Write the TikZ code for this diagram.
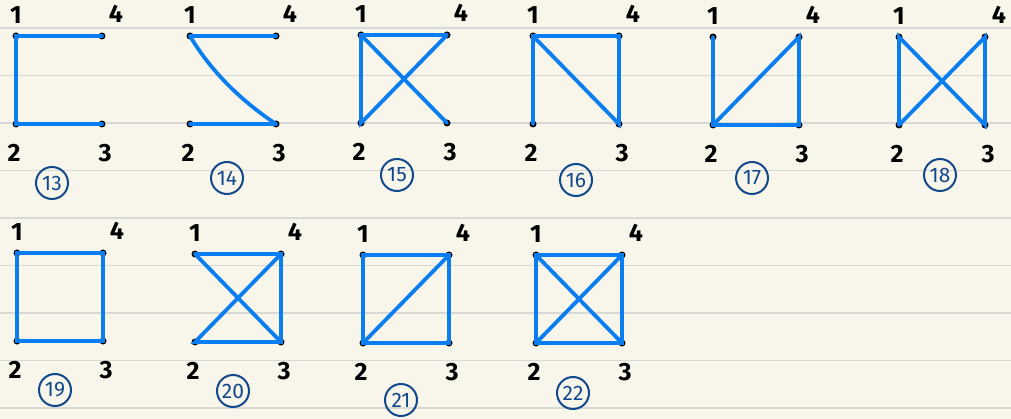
\documentclass[tikz,border=0pt]{standalone}
\usepackage{fontspec}
\setmainfont{Fira Sans}
\usetikzlibrary{calc}
\definecolor{paper}{RGB}{248,246,234}
\definecolor{ruling}{RGB}{216,216,212}
\definecolor{pen}{RGB}{10,125,240}
\definecolor{ink}{RGB}{18,72,140}
\tikzset{
    graphedge/.style={line width=3.8pt,pen,line cap=round},
    vert/.style={circle,fill=black,inner sep=0pt,minimum size=7pt},
    vlabel/.style={font=\fontsize{25}{25}\selectfont\bfseries,inner sep=0pt},
    gnum/.style={circle,draw=ink,line width=2pt,text=ink,minimum size=32pt,inner sep=0pt,font=\fontsize{21}{21}\selectfont},
    ruleline/.style={ruling,line width=1.3pt}
}

\begin{document}
\begin{tikzpicture}[x=1pt,y=-1pt]
    % Paper
    \fill[paper] (0,0) rectangle (1011,419);
    \useasboundingbox (0,0) rectangle (1011,419);
    \foreach \ry in {28,75.5,...,410}
        \draw[ruleline] (0,\ry) -- (1011,\ry);
    % Vertices, corner labels and graph numbers
    \foreach \g/\x/\y/\lx/\ly in {13/16/36/52/183, 14/190/36/227/178, 15/361/35/397/175,
            16/533/36/576/180, 17/713/37/752/178, 18/899/37/940/175,
            19/17/253/55/390, 20/195/254/233/391, 21/363/255/401/400, 22/536/255/573/393}{
        \node[vert] (g\g-1) at (\x,\y) {};
        \node[vert] (g\g-4) at (\x+86,\y) {};
        \node[vert] (g\g-2) at (\x,\y+88) {};
        \node[vert] (g\g-3) at (\x+86,\y+88) {};
        \node[vlabel] (g\g-l1) at (\x,\y-21) {1};
        \node[vlabel] (g\g-l4) at (\x+100,\y-22) {4};
        \node[vlabel] (g\g-l2) at (\x-2,\y+117) {2};
        \node[vlabel] (g\g-l3) at (\x+89,\y+117) {3};
        \node[gnum] (g\g-n) at (\lx,\ly) {\g};
    }
    % 13
    \draw[graphedge] (g13-4.center) -- (g13-1.center) -- (g13-2.center) -- (g13-3.center);
    % 14
    \draw[graphedge] (g14-1.center) -- (g14-4.center);
    \draw[graphedge] (g14-2.center) -- (g14-3.center);
    \draw[graphedge] (g14-1.center) .. controls ($(g14-1.center)+(20,34)$) and ($(g14-3.center)+(-36,-24)$) .. (g14-3.center);
    % 15
    \draw[graphedge] (g15-4.center) -- (g15-1.center) -- (g15-2.center) -- (g15-4.center);
    \draw[graphedge] (g15-1.center) -- (g15-3.center);
    % 16
    \draw[graphedge] (g16-2.center) -- (g16-1.center) -- (g16-4.center) -- (g16-3.center) -- (g16-1.center);
    % 17
    \draw[graphedge] (g17-1.center) -- (g17-2.center) -- (g17-3.center) -- (g17-4.center) -- (g17-2.center);
    % 18
    \draw[graphedge] (g18-2.center) -- (g18-1.center) -- (g18-3.center) -- (g18-4.center) -- (g18-2.center);
    % 19
    \draw[graphedge] (g19-1.center) -- (g19-4.center) -- (g19-3.center) -- (g19-2.center) -- cycle;
    % 20
    \draw[graphedge] (g20-1.center) -- (g20-4.center) -- (g20-3.center) -- (g20-2.center) -- (g20-4.center);
    \draw[graphedge] (g20-1.center) -- (g20-3.center);
    % 21
    \draw[graphedge] (g21-1.center) -- (g21-4.center) -- (g21-3.center) -- (g21-2.center) -- cycle;
    \draw[graphedge] (g21-2.center) -- (g21-4.center);
    % 22
    \draw[graphedge] (g22-1.center) -- (g22-4.center) -- (g22-3.center) -- (g22-2.center) -- cycle;
    \draw[graphedge] (g22-1.center) -- (g22-3.center);
    \draw[graphedge] (g22-2.center) -- (g22-4.center);
\end{tikzpicture}
\end{document}
